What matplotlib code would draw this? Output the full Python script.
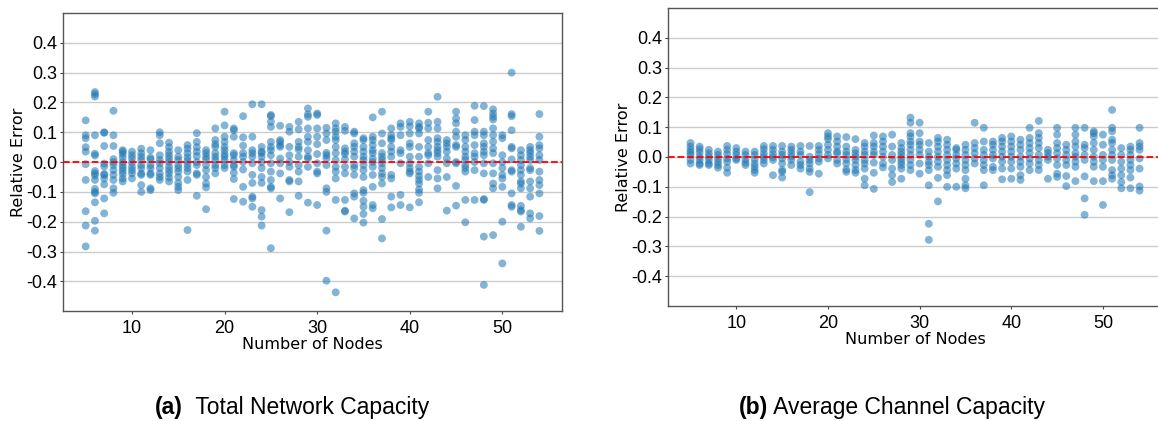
import matplotlib
matplotlib.use("Agg")
import matplotlib.pyplot as plt
import numpy as np

plt.rcParams['axes.unicode_minus'] = False

# relative error per network size (one list of runs per node count)
nodes = list(range(5, 55))

total_capacity_err = [
    [0.14, 0.09, 0.08, 0.05, 0.035, -0.007, -0.06, -0.165, -0.213, -0.283],
    [0.235, 0.228, 0.22, 0.09, 0.028, 0.022, -0.03, -0.038, -0.045, -0.06, -0.09, -0.10, -0.105, -0.135, -0.197, -0.23],
    [0.10, 0.098, 0.054, -0.005, -0.015, -0.04, -0.043, -0.055, -0.075, -0.122, -0.172],
    [0.172, 0.09, 0.054, 0.01, 0.0, -0.01, -0.027, -0.043, -0.06, -0.088, -0.103],
    [0.04, 0.035, 0.027, 0.015, 0.0, -0.01, -0.02, -0.03, -0.04, -0.055, -0.065],
    [0.035, 0.023, 0.012, -0.002, -0.016, -0.027, -0.038, -0.055],
    [0.045, 0.03, 0.018, 0.007, -0.01, -0.02, -0.038, -0.043, -0.077, -0.1],
    [0.04, 0.015, 0.009, -0.01, -0.02, -0.038, -0.043, -0.088, -0.094],
    [0.10, 0.09, 0.063, 0.023, 0.007, -0.004, -0.02, -0.038, -0.05, -0.06],
    [0.065, 0.05, 0.035, 0.023, 0.012, 0.0, -0.015, -0.027, -0.038, -0.052, -0.065],
    [0.04, 0.018, 0.007, -0.01, -0.02, -0.032, -0.05, -0.07, -0.083, -0.094],
    [0.057, 0.045, 0.03, 0.016, 0.004, -0.008, -0.02, -0.032, -0.06, -0.228],
    [0.097, 0.068, 0.05, 0.035, 0.02, 0.0, -0.01, -0.038, -0.043, -0.113],
    [0.04, 0.03, 0.018, 0.009, -0.01, -0.027, -0.05, -0.072, -0.085, -0.158],
    [0.113, 0.074, 0.06, 0.051, 0.03, 0.018, 0.007, -0.01, -0.02, -0.038],
    [0.169, 0.123, 0.085, 0.068, 0.051, 0.04, 0.027, 0.018, 0.007, -0.01, -0.02],
    [0.113, 0.107, 0.085, 0.03, 0.023, 0.007, -0.01, -0.016, -0.036, -0.057, -0.124],
    [0.154, 0.083, 0.055, 0.03, 0.018, 0.0, -0.025, -0.083, -0.133],
    [0.194, 0.085, 0.04, 0.03, 0.018, -0.004, -0.043, -0.07, -0.116, -0.122, -0.15],
    [0.194, 0.051, 0.035, 0.03, 0.018, 0.0, -0.02, -0.05, -0.07, -0.161, -0.183, -0.213],
    [0.158, 0.154, 0.135, 0.118, 0.068, 0.051, 0.04, 0.023, -0.004, -0.032, -0.06, -0.083, -0.088, -0.289],
    [0.122, 0.074, 0.068, 0.057, 0.051, 0.012, -0.004, -0.038, -0.122],
    [0.118, 0.102, 0.051, 0.023, 0.0, -0.016, -0.06, -0.065, -0.168],
    [0.135, 0.11, 0.068, 0.051, 0.042, 0.018, -0.01, -0.032, -0.065, -0.113],
    [0.18, 0.16, 0.152, 0.113, 0.085, 0.068, 0.04, 0.018, 0.012, -0.016, -0.136],
    [0.163, 0.158, 0.113, 0.085, 0.06, 0.027, -0.004, -0.032, -0.038, -0.144],
    [0.115, 0.096, 0.074, 0.031, 0.023, 0.012, -0.01, -0.088, -0.1, -0.23, -0.398],
    [0.13, 0.113, 0.102, 0.085, 0.074, 0.051, 0.03, 0.007, -0.016, -0.032, -0.055, -0.127, -0.437],
    [0.118, 0.105, 0.046, 0.035, 0.027, 0.009, -0.016, -0.038, -0.127, -0.163, -0.166],
    [0.102, 0.096, 0.063, 0.051, 0.035, 0.018, -0.01, -0.02, -0.043, -0.105, -0.116, -0.189],
    [0.08, 0.074, 0.051, 0.035, 0.018, 0.007, -0.01, -0.027, -0.05, -0.094, -0.103, -0.13, -0.15, -0.174, -0.203],
    [0.15, 0.085, 0.074, 0.057, 0.04, 0.03, 0.012, 0.0, -0.016, -0.043, -0.083, -0.144, -0.155],
    [0.169, 0.096, 0.063, 0.03, 0.018, 0.007, -0.004, -0.02, -0.038, -0.05, -0.072, -0.191, -0.256],
    [0.113, 0.09, 0.08, 0.074, 0.051, 0.035, 0.018, -0.043, -0.055, -0.116, -0.152],
    [0.13, 0.118, 0.09, 0.04, 0.03, -0.004, -0.11, -0.144],
    [0.135, 0.12, 0.096, 0.063, 0.051, 0.018, -0.004, -0.02, -0.032, -0.038, -0.152],
    [0.13, 0.118, 0.113, 0.096, 0.051, 0.018, -0.016, -0.032, -0.047, -0.06, -0.072, -0.092, -0.103, -0.135],
    [0.169, 0.132, 0.113, 0.074, 0.051, 0.03, 0.023, -0.004, -0.05],
    [0.219, 0.135, 0.113, 0.08, 0.068, 0.051, 0.04, 0.03, 0.018, -0.027, -0.055, -0.088],
    [0.074, 0.063, 0.051, 0.035, 0.012, -0.004, -0.05, -0.163],
    [0.169, 0.146, 0.13, 0.102, 0.085, 0.057, 0.051, 0.0, -0.004, -0.08, -0.146],
    [0.09, 0.074, 0.051, 0.035, 0.018, 0.007, -0.01, -0.02, -0.032, -0.127, -0.202],
    [0.189, 0.141, 0.102, 0.09, 0.057, 0.03, 0.018, 0.0, -0.027, -0.127],
    [0.188, 0.102, 0.09, 0.063, 0.051, 0.035, 0.023, -0.004, -0.038, -0.124, -0.127, -0.25, -0.412],
    [0.177, 0.163, 0.152, 0.143, 0.113, 0.09, 0.068, 0.046, 0.03, -0.004, -0.038, -0.072, -0.088, -0.245],
    [0.09, 0.08, 0.023, 0.0, -0.02, -0.043, -0.055, -0.083, -0.2, -0.34],
    [0.3, 0.161, 0.154, 0.107, 0.051, 0.046, 0.009, -0.027, -0.032, -0.105, -0.144, -0.15],
    [0.04, 0.023, 0.007, -0.01, -0.027, -0.043, -0.065, -0.072, -0.088, -0.147, -0.161, -0.166, -0.217],
    [0.051, 0.04, 0.03, 0.018, 0.007, -0.02, -0.027, -0.065, -0.088, -0.116, -0.172, -0.189],
    [0.161, 0.085, 0.057, 0.046, 0.023, 0.007, -0.032, -0.06, -0.077, -0.105, -0.181, -0.231],
]

avg_channel_err = [
    [0.047, 0.035, 0.024, 0.015, 0.007, -0.01, -0.022],
    [0.035, 0.026, 0.015, 0.001, -0.01, -0.022, -0.027],
    [0.024, 0.012, 0.001, -0.01, -0.022, -0.027],
    [0.018, 0.007, -0.005, -0.016, -0.027, -0.036],
    [0.037, 0.024, 0.01, -0.005, -0.016, -0.036, -0.053],
    [0.03, 0.018, 0.007, -0.005, -0.01],
    [0.018, 0.007, -0.008, -0.019, -0.027],
    [0.018, 0.007, -0.008, -0.022, -0.033, -0.044, -0.053],
    [0.037, 0.026, 0.012, 0.001, -0.01, -0.022],
    [0.037, 0.024, 0.01, -0.001, -0.01, -0.061],
    [0.037, 0.018, 0.007, -0.005, -0.022, -0.044, -0.05, -0.069],
    [0.035, 0.024, 0.012, 0.001, -0.01, -0.027],
    [0.037, 0.018, 0.007, -0.016, -0.027, -0.039],
    [0.037, 0.001, -0.01, -0.022, -0.039, -0.05, -0.118],
    [0.037, 0.024, 0.01, -0.005, -0.016, -0.056],
    [0.08, 0.069, 0.06, 0.041, 0.024, 0.007, -0.005],
    [0.069, 0.052, 0.035, 0.018, 0.012, -0.01, -0.022],
    [0.067, 0.035, 0.018, 0.007, -0.008, -0.022, -0.042, -0.05],
    [0.06, 0.024, 0.012, 0.001, -0.01, -0.027, -0.044, -0.053],
    [0.047, 0.035, 0.018, 0.007, -0.01, -0.022, -0.039, -0.073, -0.095],
    [0.072, 0.047, 0.035, 0.018, 0.007, -0.019, -0.053, -0.107],
    [0.069, 0.052, 0.035, 0.018, 0.001, -0.022, -0.035],
    [0.075, 0.035, 0.007, -0.01, -0.039, -0.061, -0.084],
    [0.047, 0.03, 0.018, 0.007, -0.005, -0.016, -0.027, -0.039, -0.073],
    [0.132, 0.115, 0.08, 0.069, 0.052, 0.041, 0.024, 0.007, -0.01, -0.027, -0.044],
    [0.115, 0.08, 0.052, 0.041, 0.024, 0.007, -0.022, -0.056],
    [0.047, 0.018, 0.001, -0.016, -0.027, -0.044, -0.095, -0.224, -0.278],
    [0.064, 0.052, 0.035, 0.018, 0.001, -0.016, -0.033, -0.07, -0.149],
    [0.058, 0.041, 0.024, 0.007, -0.01, -0.027, -0.044, -0.061, -0.1],
    [0.03, 0.024, 0.007, -0.005, -0.022, -0.039, -0.1],
    [0.041, 0.024, 0.007, -0.01, -0.027, -0.044, -0.073, -0.095, -0.105],
    [0.115, 0.047, 0.03, 0.013, -0.005, -0.022],
    [0.098, 0.052, 0.024, 0.007, -0.01, -0.027, -0.044, -0.095],
    [0.052, 0.041, 0.024, 0.007, -0.005, -0.033, -0.044],
    [0.064, 0.052, 0.035, 0.018, 0.001, -0.016, -0.039, -0.075],
    [0.069, 0.052, 0.035, 0.018, 0.001, -0.016, -0.039, -0.073],
    [0.058, 0.041, 0.024, 0.001, -0.016, -0.033, -0.061, -0.077],
    [0.098, 0.064, 0.047, 0.03, 0.013, -0.005, -0.022, -0.044],
    [0.121, 0.08, 0.064, 0.047, 0.03, 0.007, -0.01, -0.027, -0.044],
    [0.024, 0.013, 0.001, -0.01, -0.073],
    [0.098, 0.075, 0.047, 0.03, 0.013, -0.005, -0.027, -0.056, -0.067],
    [0.041, 0.024, 0.007, -0.01, -0.027, -0.064, -0.098],
    [0.098, 0.075, 0.052, 0.035, 0.013, 0.001, -0.016, -0.033, -0.081],
    [0.098, 0.041, 0.03, 0.007, -0.01, -0.065, -0.139, -0.194],
    [0.086, 0.08, 0.069, 0.047, 0.024, 0.001, -0.016, -0.033, -0.081],
    [0.075, 0.041, 0.007, -0.01, -0.033, -0.081, -0.161],
    [0.158, 0.098, 0.086, 0.058, 0.047, 0.024, 0.007, -0.01, -0.044, -0.061, -0.073],
    [0.03, 0.007, -0.016, -0.039, -0.061, -0.084, -0.105],
    [0.035, 0.024, 0.007, -0.01, -0.027, -0.044, -0.069, -0.105],
    [0.098, 0.047, 0.035, 0.024, -0.005, -0.039, -0.099, -0.113],
]

yticks = [-0.4, -0.3, -0.2, -0.1, 0.0, 0.1, 0.2, 0.3, 0.4]
xticks = [10, 20, 30, 40, 50]
captions = [("(a)", "  Total Network Capacity"), ("(b)", " Average Channel Capacity")]

fig = plt.figure(figsize=(11.58, 4.21), dpi=100)
ax1 = fig.add_axes([0.0544, 0.261, 0.431, 0.708])
ax2 = fig.add_axes([0.5769, 0.2732, 0.4266, 0.7078])

tick_font = dict(family='Liberation Sans', size=13)

for ax, errs in [(ax1, total_capacity_err), (ax2, avg_channel_err)]:
    xs = np.concatenate([[n] * len(e) for n, e in zip(nodes, errs)])
    ys = np.concatenate(errs)
    ax.scatter(xs, ys, s=32, color='#1f77b4', alpha=0.55, edgecolors='none', zorder=3)
    ax.axhline(0, color='red', linestyle='--', linewidth=1.3, zorder=4)
    ax.set_ylim(-0.5, 0.5)
    ax.set_xlim(2.55, 56.45)
    ax.set_yticks(yticks)
    ax.set_yticklabels([f"{t:.1f}" for t in yticks], fontdict=tick_font)
    ax.set_xticks(xticks)
    ax.set_xticklabels([str(t) for t in xticks], fontdict=tick_font)
    ax.yaxis.grid(True, color='#cccccc', linewidth=1.0)
    ax.set_axisbelow(True)
    ax.tick_params(length=2.5, width=0.8, color='#444444')
    ax.tick_params(axis='y', pad=1.8)
    ax.tick_params(axis='x', pad=4)
    for sp in ax.spines.values():
        sp.set_color('#555555')
        sp.set_linewidth(1.0)
    ax.set_xlabel("Number of Nodes", fontsize=11.5, labelpad=0)
    ax.set_ylabel("Relative Error", fontsize=11.5, labelpad=0)

# sub-figure captions with a bold label
for (lab, txt), x0 in zip(captions, [0.134, 0.638]):
    t1 = fig.text(x0, 0.033, lab, fontsize=16.5, fontweight='bold',
                  family='Liberation Sans', va='center', ha='left')
    ax1.annotate(txt, xy=(1, 0.5), xycoords=t1, va='center', ha='left',
                 fontsize=16.5, family='Liberation Sans', annotation_clip=False)

fig.savefig("out.png", dpi=100)
